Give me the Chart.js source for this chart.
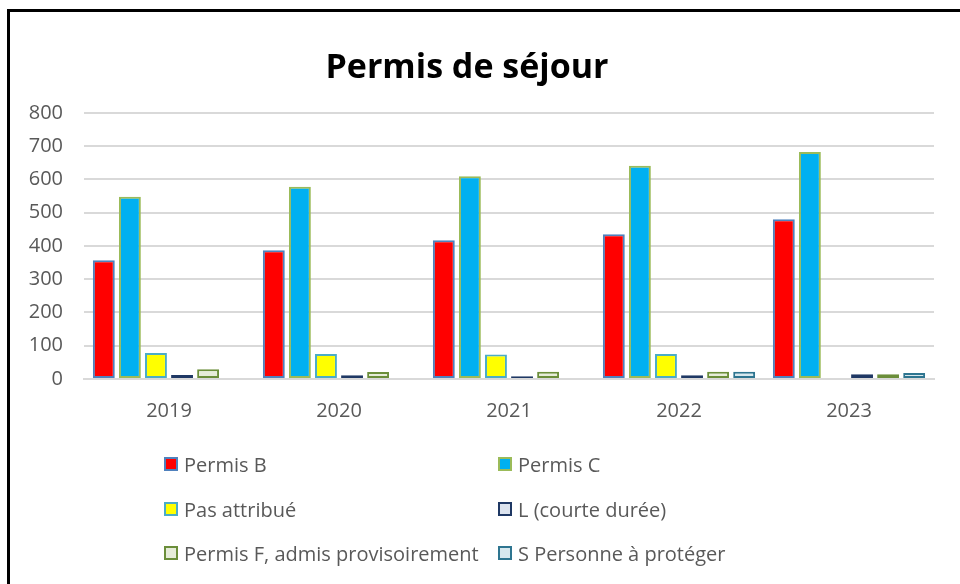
<!DOCTYPE html>
<html>
<head>
<meta charset="utf-8">
<script src="https://cdn.jsdelivr.net/npm/chart.js@4/dist/chart.umd.min.js"></script>
<style>
  html,body{margin:0;padding:0;background:#fff;}
  #wrap{position:relative;width:960px;height:584px;overflow:hidden;background:#fff;}
  #frame{position:absolute;left:7px;top:9px;width:1000px;height:700px;border-top:3px solid #000;border-left:3px solid #000;box-sizing:border-box;pointer-events:none;}
  #c{position:absolute;left:0;top:0;}
  #legend{position:absolute;left:0;top:0;width:960px;height:584px;pointer-events:none;font-family:"Open Sans",sans-serif;font-size:20px;color:#595959;}
  .li{position:absolute;display:flex;align-items:center;white-space:nowrap;}
  .sw{width:10px;height:10px;border:2px solid;margin-right:6px;}
</style>
</head>
<body>
<div id="wrap">
  <canvas id="c" width="960" height="584"></canvas>
  <div id="legend"></div>
  <div id="frame"></div>
</div>
<script>
const categories = ["2019","2020","2021","2022","2023"];
const permisB = [357, 387, 417, 435, 480];
const permisC = [548, 578, 609, 641, 682];
const pasAttribue = [78, 75, 74, 75, 3];
const courteDuree = [12, 11, 8, 11, 14];
const permisF = [29, 21, 22, 22, 14];
const personneProteger = [0, 0, 0, 22, 18];
const seriesNames = ["Permis B","Permis C","Pas attribué","L (courte durée)","Permis F, admis provisoirement","S Personne à protéger"];
const yTicks = [0,100,200,300,400,500,600,700,800];

const fills = ["#FF0000","#00B0F0","#FFFF00","#DCE3EE","#E6ECD9","#D7E8EE"];
const borders = ["#4F81BD","#9BBB59","#4BACC6","#1F3864","#6B8E3A","#2E7590"];
const seriesData = [permisB, permisC, pasAttribue, courteDuree, permisF, personneProteger];

const datasets = seriesNames.map((n,i)=>({
  label:n, data:seriesData[i], backgroundColor:fills[i], borderColor:borders[i],
  borderWidth:2, borderSkipped:false, categoryPercentage:0.92, barPercentage:0.84
}));

const chart = new Chart(document.getElementById('c'), {
  type:'bar',
  data:{labels:categories, datasets},
  options:{
    responsive:false, animation:false,
    layout:{padding:{left:0,right:26,top:0,bottom:160}},
    plugins:{
      legend:{display:false},
      tooltip:{enabled:false},
      title:{display:true,text:"Permis de séjour",color:"#000",
        font:{family:"Open Sans",size:34,weight:"bold"},padding:{top:48,bottom:24}}
    },
    scales:{
      x:{grid:{display:false},border:{display:true,color:"#D9D9D9",width:2},
        ticks:{color:"#595959",font:{family:"Open Sans",size:20},padding:12},
        afterFit:s=>{s.height=45;}},
      y:{min:0,max:800,afterBuildTicks:s=>{s.ticks=yTicks.map(v=>({value:v}));},
        grid:{color:"#D9D9D9",lineWidth:2,drawTicks:false},border:{display:false},
        ticks:{color:"#595959",font:{family:"Open Sans",size:20},padding:21},
        afterFit:s=>{s.width=84;}}
    }
  }
});

const leg = document.getElementById('legend');
const pos = [[164,464],[498,464],[164,509],[498,509],[164,553],[498,553]];
chart.data.datasets.forEach((d,i)=>{
  const el=document.createElement('div');
  el.className='li';
  el.style.left=pos[i][0]+'px';
  el.style.top=(pos[i][1]-14)+'px';
  el.style.height='28px';
  el.innerHTML='<span class="sw" style="background:'+d.backgroundColor+';border-color:'+d.borderColor+'"></span><span>'+d.label+'</span>';
  leg.appendChild(el);
});
</script>
</body>
</html>
